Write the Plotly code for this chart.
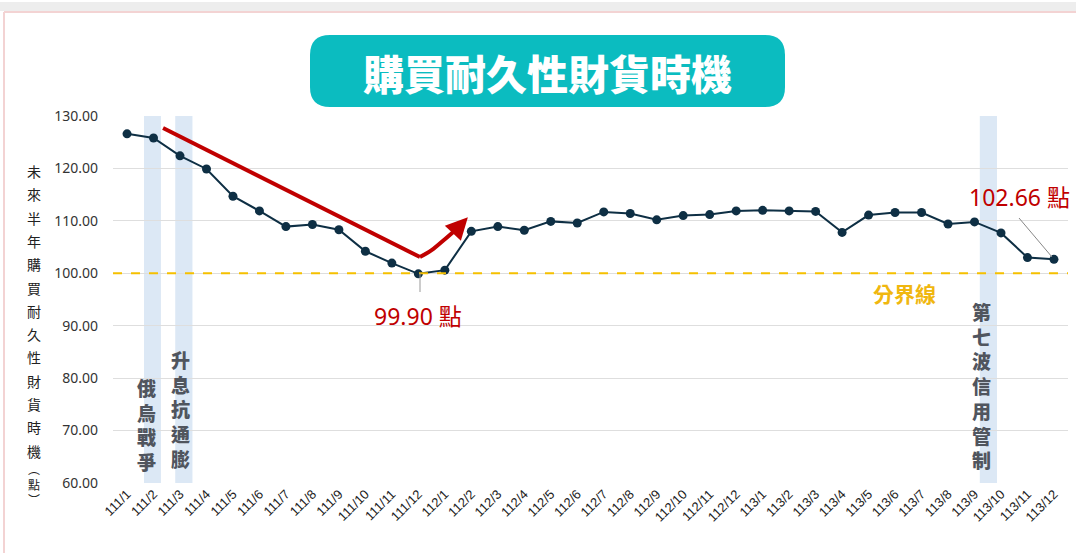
import plotly.graph_objects as go

# ---- data ----
months = ["111/1","111/2","111/3","111/4","111/5","111/6","111/7","111/8","111/9","111/10","111/11","111/12",
          "112/1","112/2","112/3","112/4","112/5","112/6","112/7","112/8","112/9","112/10","112/11","112/12",
          "113/1","113/2","113/3","113/4","113/5","113/6","113/7","113/8","113/9","113/10","113/11","113/12"]
values = [126.6, 125.8, 122.4, 119.9, 114.7, 111.9, 108.9, 109.3, 108.3, 104.2, 101.95, 99.90,
          100.6, 108.0, 108.9, 108.2, 109.9, 109.6, 111.7, 111.4, 110.2, 111.0, 111.2, 111.9,
          112.0, 111.9, 111.8, 107.8, 111.1, 111.6, 111.6, 109.4, 109.8, 107.7, 103.0, 102.66]
y_ticks = [60, 70, 80, 90, 100, 110, 120, 130]
threshold = 100
events = ["俄烏戰爭", "升息抗通膨", "第七波信用管制"]
event_x0 = [0.64, 1.82, 32.2]
event_x1 = [1.28, 2.47, 32.85]
trend_x = [1.36, 11.06]
trend_y = [127.7, 103.1]
tail_x = [11.06, 11.5, 12.0, 12.5]
tail_y = [103.1, 104.4, 106.5, 108.7]
arrow_tip = (12.87, 110.7)
title = "購買耐久性財貨時機"
ytitle_main = "未來半年購買耐久性財貨時機"
ytitle_unit = "︵點︶"

xs = list(range(len(months)))

# plot-area pixel geometry
W, H = 1076, 553
L, R, T, B = 113, 1068, 116, 483
def px(x):
    return (x - L) / (R - L)
def py(y):
    return (B - y) / (B - T)

fig = go.Figure()

# main series
fig.add_trace(go.Scatter(x=xs, y=values, mode="lines+markers",
                         line=dict(color="#0e2f44", width=2),
                         marker=dict(color="#0e2f44", size=9),
                         hoverinfo="skip", showlegend=False))
# red trend
fig.add_trace(go.Scatter(x=trend_x, y=trend_y, mode="lines",
                         line=dict(color="#c00000", width=4),
                         hoverinfo="skip", showlegend=False))
fig.add_trace(go.Scatter(x=tail_x, y=tail_y, mode="lines",
                         line=dict(color="#c00000", width=4, shape="spline"),
                         hoverinfo="skip", showlegend=False))

shapes = []
# event bands
for x0, x1 in zip(event_x0, event_x1):
    shapes.append(dict(type="rect", xref="x", yref="paper", x0=x0, x1=x1, y0=0, y1=1,
                       fillcolor="#dce8f5", line=dict(width=0), layer="below"))
# threshold line
shapes.append(dict(type="line", xref="paper", yref="y", x0=0, x1=1, y0=threshold, y1=threshold,
                   line=dict(color="#f5c000", width=2, dash="dash")))
# leader lines
shapes.append(dict(type="line", xref="paper", yref="paper", x0=px(420), x1=px(420), y0=py(273), y1=py(292),
                   line=dict(color="#999999", width=1)))
shapes.append(dict(type="line", xref="paper", yref="paper", x0=px(1019), x1=px(1052), y0=py(218), y1=py(257),
                   line=dict(color="#888888", width=1)))

# title rounded box
def rrect(x0, y0, x1, y1, r):
    pts = [
        f"M {px(x0 + r)},{py(y0)}",
        f"L {px(x1 - r)},{py(y0)}",
        f"Q {px(x1)},{py(y0)} {px(x1)},{py(y0 + r)}",
        f"L {px(x1)},{py(y1 - r)}",
        f"Q {px(x1)},{py(y1)} {px(x1 - r)},{py(y1)}",
        f"L {px(x0 + r)},{py(y1)}",
        f"Q {px(x0)},{py(y1)} {px(x0)},{py(y1 - r)}",
        f"L {px(x0)},{py(y0 + r)}",
        f"Q {px(x0)},{py(y0)} {px(x0 + r)},{py(y0)}",
        "Z",
    ]
    return " ".join(pts)

shapes.append(dict(type="path", xref="paper", yref="paper", path=rrect(310, 35, 785, 107, 20),
                   fillcolor="#0bbcc0", line=dict(width=0)))
# frame
shapes.append(dict(type="rect", xref="paper", yref="paper", x0=px(0), x1=px(W), y0=py(2), y1=py(11),
                   fillcolor="#ededed", line=dict(width=0), layer="below"))
shapes.append(dict(type="line", xref="paper", yref="paper", x0=px(4), x1=px(W), y0=py(12), y1=py(12),
                   line=dict(color="#f3d3d3", width=2)))
shapes.append(dict(type="line", xref="paper", yref="paper", x0=px(4), x1=px(4), y0=py(12), y1=py(H),
                   line=dict(color="#f3d3d3", width=2)))

annotations = []
cjk = "Noto Sans CJK TC"
# title
annotations.append(dict(xref="paper", yref="paper", x=px(547.5), y=py(72), text=title,
                        showarrow=False, font=dict(family=cjk, size=41, color="white", weight=900),
                        xanchor="center", yanchor="middle"))
# arrow head
annotations.append(dict(xref="x", yref="y", axref="x", ayref="y", x=arrow_tip[0], y=arrow_tip[1],
                        ax=tail_x[-1], ay=tail_y[-1], text="", showarrow=True,
                        arrowhead=2, arrowsize=1.1, arrowwidth=4, arrowcolor="#c00000"))
# event labels (vertical text)
event_cx = [146, 180, 981]
event_cy = [424, 409, 385]
for name, cx, cy in zip(events, event_cx, event_cy):
    annotations.append(dict(xref="paper", yref="paper", x=px(cx), y=py(cy),
                            text="<br>".join(list(name)), showarrow=False,
                            font=dict(family=cjk, size=19, color="#50555e", weight=900),
                            xanchor="center", yanchor="middle", borderpad=0))
# value labels
annotations.append(dict(xref="paper", yref="paper", x=px(418), y=py(316), text="99.90 點",
                        showarrow=False, font=dict(family="Noto Sans, " + cjk, size=23, color="#c00000"),
                        xanchor="center", yanchor="middle"))
annotations.append(dict(xref="paper", yref="paper", x=px(1019), y=py(197), text="102.66 點",
                        showarrow=False, font=dict(family="Noto Sans, " + cjk, size=23, color="#c00000"),
                        xanchor="center", yanchor="middle"))
annotations.append(dict(xref="paper", yref="paper", x=px(904), y=py(293), text="<b>分界線</b>",
                        showarrow=False, font=dict(family=cjk, size=21, color="#f0b70f"),
                        xanchor="center", yanchor="middle"))
# y-axis title, one character per annotation
for i, ch in enumerate(ytitle_main):
    annotations.append(dict(xref="paper", yref="paper", x=px(34), y=py(171 + 23.3 * i), text=ch,
                            showarrow=False, font=dict(family=cjk, size=14, color="#222222"),
                            xanchor="center", yanchor="middle", borderpad=0))
annotations.append(dict(xref="paper", yref="paper", x=px(34), y=py(484),
                        text="<br>".join(list(ytitle_unit)),
                        showarrow=False, font=dict(family=cjk, size=12, color="#222222"),
                        xanchor="center", yanchor="middle", borderpad=0))

fig.update_layout(
    width=W, height=H,
    margin=dict(l=L, r=W - R, t=T, b=H - B, pad=0),
    paper_bgcolor="white", plot_bgcolor="white",
    shapes=shapes, annotations=annotations,
    xaxis=dict(range=[-0.53, 35.53], tickvals=xs, ticktext=months, tickangle=-45,
               showgrid=False, zeroline=False, showline=False, ticks="",
               tickfont=dict(family="Liberation Sans", size=13, color="#222222")),
    yaxis=dict(range=[60, 130], tickvals=y_ticks, ticktext=[f"{v:.2f}" for v in y_ticks],
               showgrid=True, gridcolor="#dedede", gridwidth=1, zeroline=False, showline=False,
               ticks="", ticklabelstandoff=14,
               tickfont=dict(family="Noto Sans", size=14, color="#333333")),
)

fig.write_html("out.html", config={"displayModeBar": False},
               post_script="document.body.style.margin='0';document.body.style.overflow='hidden';")
